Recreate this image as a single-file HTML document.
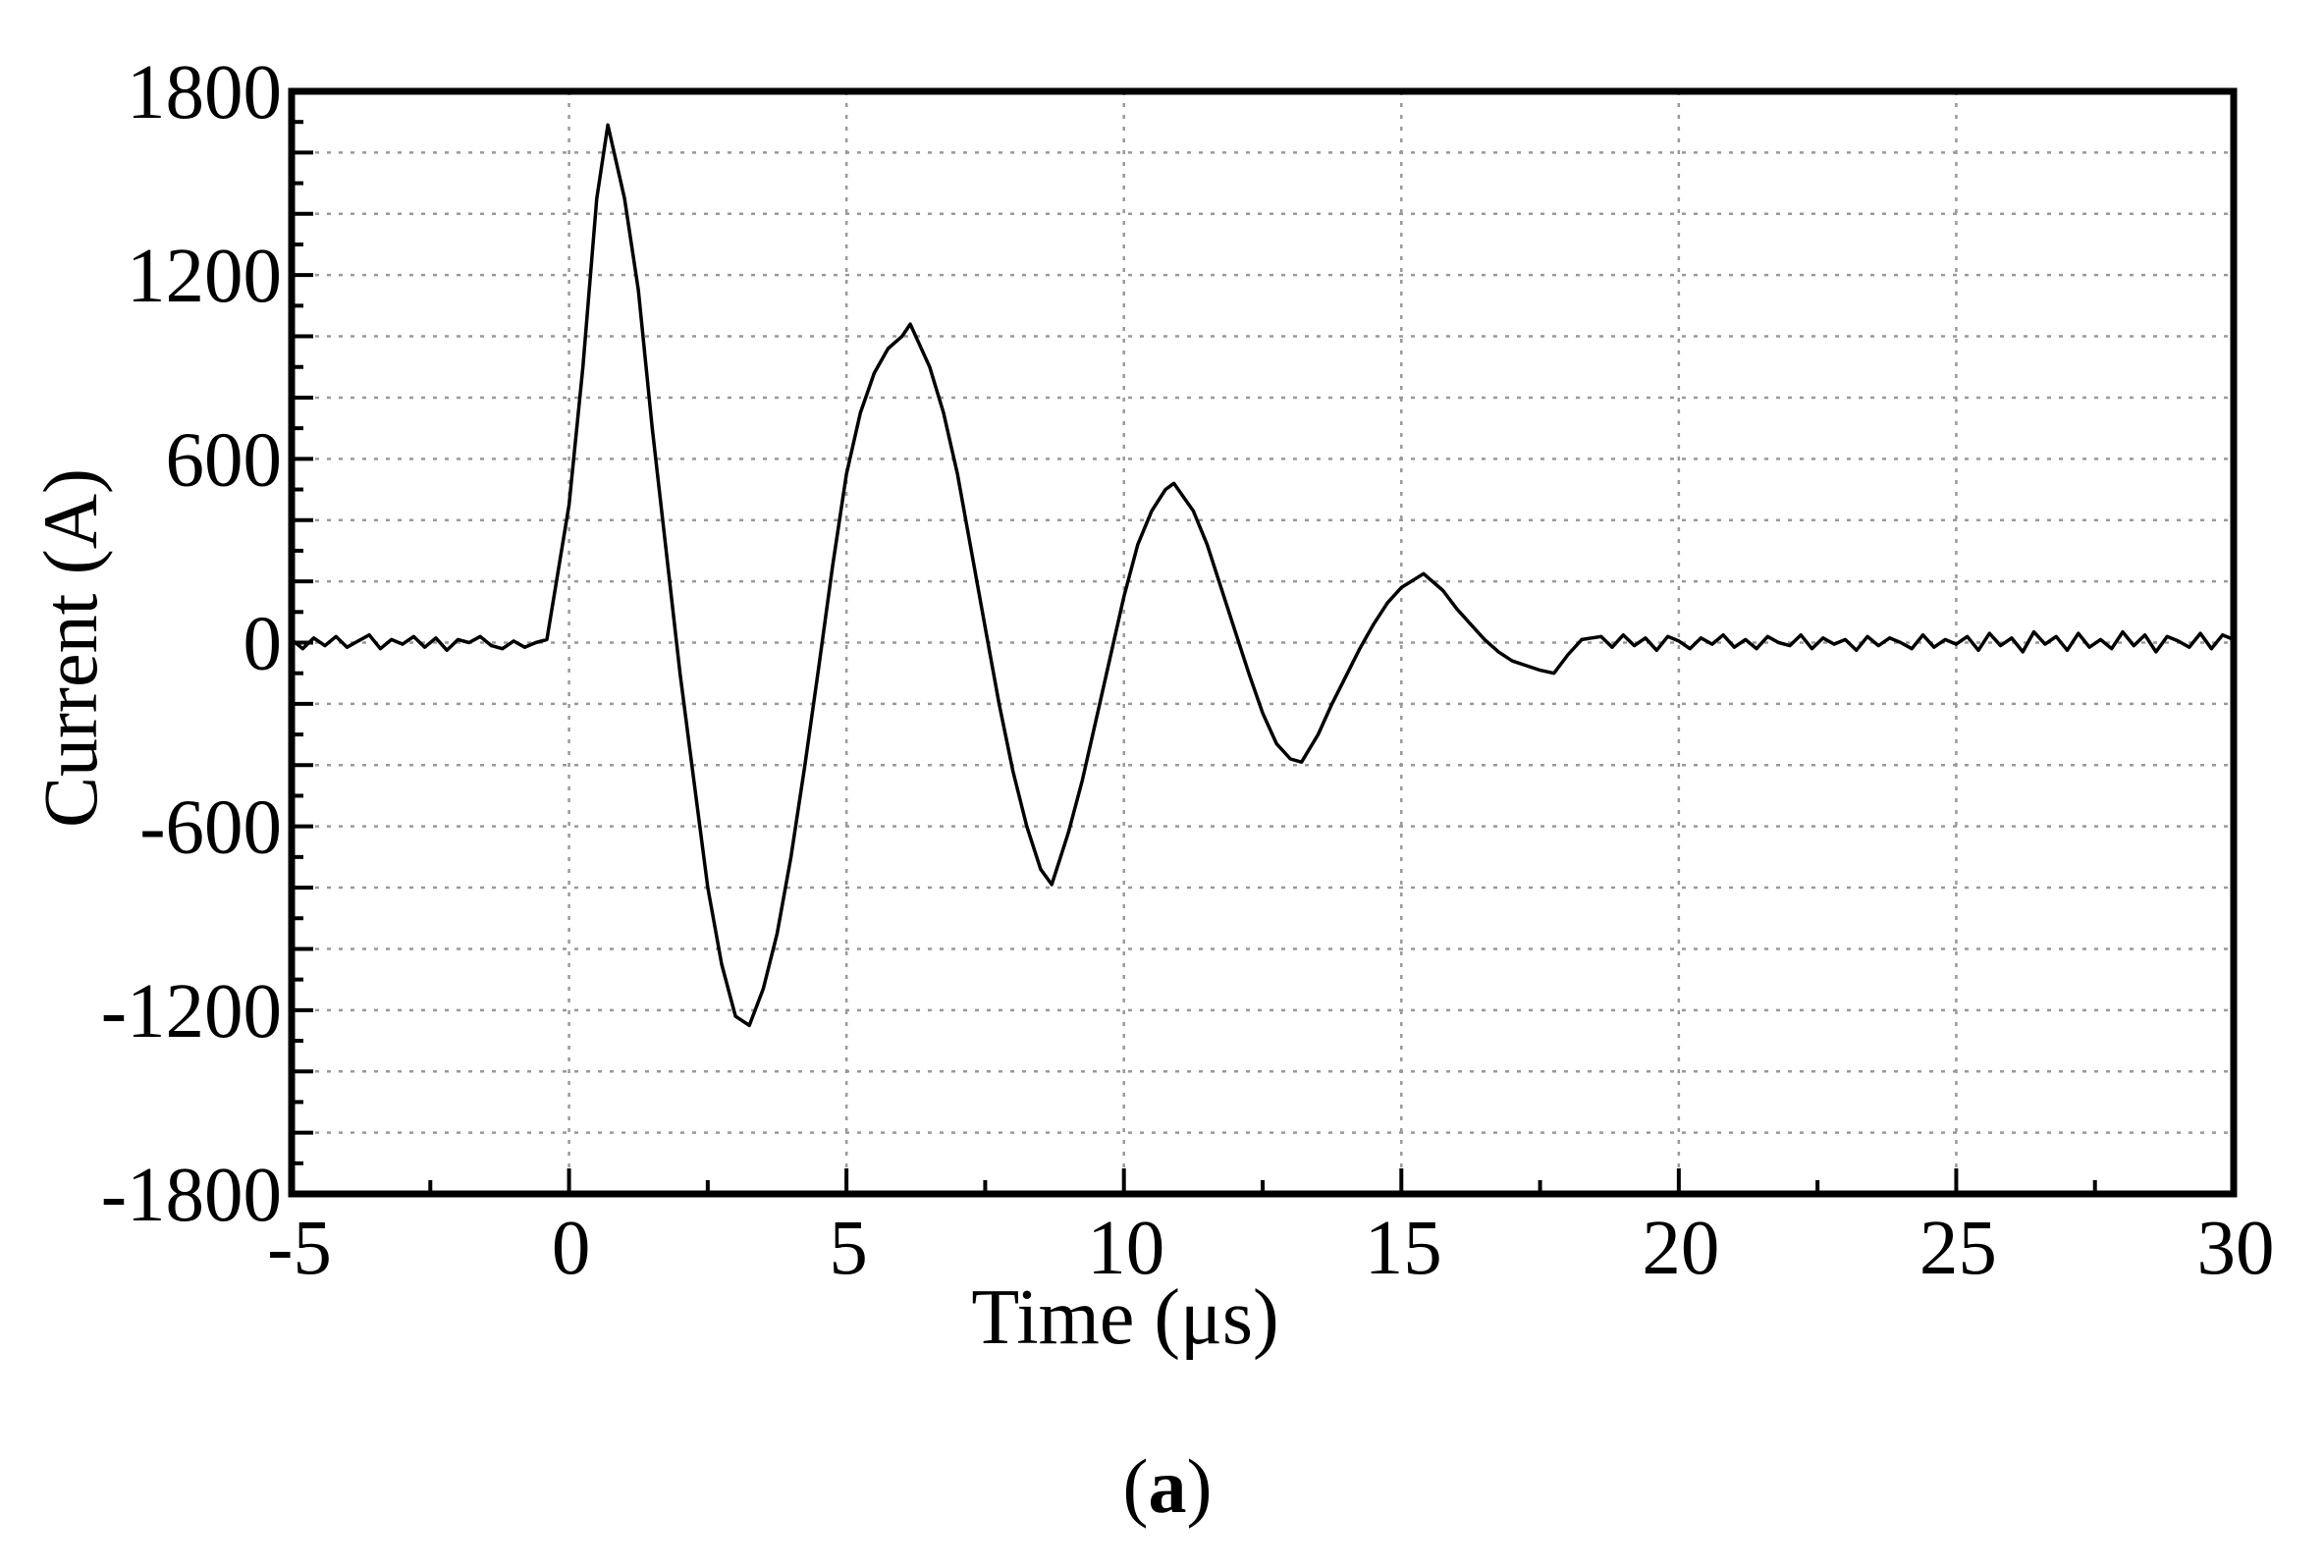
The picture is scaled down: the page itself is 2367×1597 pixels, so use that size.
<!DOCTYPE html>
<html><head><meta charset="utf-8"><style>
html,body{margin:0;padding:0;background:#fff;}
svg{display:block;}
text{font-family:"Liberation Serif",serif;fill:#000;}
</style></head><body>
<svg id="chart" width="2367" height="1597" viewBox="0 0 2367 1597" xmlns="http://www.w3.org/2000/svg">
<g id="grid"></g>
<g id="ticks"></g>
<g id="series"></g>
<rect x="297" y="93" width="1978" height="1123" fill="none" stroke="#000" stroke-width="7"/>
<g id="labels"></g>
<text transform="translate(98,660) rotate(-90)" text-anchor="middle" font-size="78">Current (A)</text>
<text x="1146" y="1368" text-anchor="middle" font-size="80">Time (μs)</text>
<text x="1189" y="1540" text-anchor="middle" font-size="78">(<tspan font-weight="bold">a</tspan>)</text>
</svg>
<script>
const xTicks = [-5, 0, 5, 10, 15, 20, 25, 30];
const yTicks = [-1800, -1200, -600, 0, 600, 1200, 1800];
const times = [-5,-4.8,-4.6,-4.4,-4.2,-4,-3.8,-3.6,-3.4,-3.2,-3,-2.8,-2.6,-2.4,-2.2,-2,-1.8,-1.6,-1.4,-1.2,-1,-0.8,-0.6,-0.4,
0,0.25,0.5,0.7,1,1.25,1.5,1.75,2,2.25,2.5,2.75,3,3.25,3.5,3.75,4,4.25,4.5,4.75,5,5.25,5.5,5.75,6,6.15,6.5,6.75,7,7.25,7.5,7.75,8,8.25,8.5,8.7,9,9.25,9.5,9.75,10,10.25,10.5,10.75,10.9,11.25,11.5,11.75,12,12.25,12.5,12.75,13,13.2,13.5,13.75,14,14.25,14.5,14.75,15,15.4,15.75,16,16.25,16.5,16.75,17,17.25,17.5,17.75,18,18.25,
18.6,18.8,19,19.2,19.4,19.6,19.8,20,20.2,20.4,20.6,20.8,21,21.2,21.4,21.6,21.8,22,22.2,22.4,22.6,22.8,23,23.2,23.4,23.6,23.8,24,24.2,24.4,24.6,24.8,25,25.2,25.4,25.6,25.8,26,26.2,26.4,26.6,26.8,27,27.2,27.4,27.6,27.8,28,28.2,28.4,28.6,28.8,29,29.2,29.4,29.6,29.8,30];
const current = [10,-20,15,-10,20,-15,5,25,-20,10,-5,20,-15,15,-25,10,0,20,-10,-20,5,-15,0,10,
450,900,1450,1690,1450,1150,700,300,-100,-450,-800,-1050,-1220,-1250,-1130,-950,-700,-400,-80,250,550,750,880,960,1000,1040,900,750,550,300,50,-200,-420,-600,-740,-790,-620,-450,-250,-50,150,320,430,500,520,430,320,180,40,-100,-230,-330,-380,-390,-300,-200,-110,-20,60,130,180,225,170,110,60,10,-30,-60,-75,-90,-100,-40,10,
20,-15,25,-10,15,-25,20,5,-20,15,-5,25,-15,10,-20,20,0,-10,25,-20,15,-5,10,-25,20,-10,15,0,-20,25,-15,10,-5,20,-25,30,-10,15,-30,35,-5,20,-25,30,-15,10,-20,35,-10,25,-30,20,5,-15,30,-20,25,10];
const X = t => 297 + (t + 5) * (1978 / 35);
const Y = v => 654.5 - v * (1123 / 3600);
const NS = "http://www.w3.org/2000/svg";
function mk(tag, attrs, parent) { const e = document.createElementNS(NS, tag); for (const k in attrs) e.setAttribute(k, attrs[k]); parent.appendChild(e); return e; }
const grid = document.getElementById('grid'), ticks = document.getElementById('ticks'), labels = document.getElementById('labels'), series = document.getElementById('series');
for (let v = -1600; v <= 1600; v += 200) {
  const l = mk('line', {x1: 297, x2: 2275, y1: Y(v), y2: Y(v), stroke: '#999', 'stroke-width': 2.5, 'stroke-dasharray': '4 8'}, grid);
  
  
}
for (let t = 0; t <= 25; t += 5) {
  const l = mk('line', {x1: X(t), x2: X(t), y1: 93, y2: 1216, stroke: '#999', 'stroke-width': 2.5, 'stroke-dasharray': '4 8'}, grid);
  
  
}
for (let v = -1700; v <= 1700; v += 100) {
  const len = (v % 200 === 0) ? 22 : 12;
  const l = mk('line', {x1: 297, x2: 297 + len, y1: Y(v), y2: Y(v), stroke: '#000', 'stroke-width': 4}, ticks);
  
  
}
for (let t = -2.5; t < 30; t += 2.5) {
  const len = (t % 5 === 0) ? 26 : 14;
  const l = mk('line', {x1: X(t), x2: X(t), y1: 1216, y2: 1216 - len, stroke: '#000', 'stroke-width': 4}, ticks);
  
  
}
yTicks.forEach(v => {
  const tx = mk('text', {x: 287, y: Y(v) + 27, 'text-anchor': 'end', 'font-size': 79}, labels);
  tx.textContent = String(v);
  
  
});
xTicks.forEach(t => {
  const tx = mk('text', {x: X(t) + (t < 0 ? 8 : 2), y: 1297, 'text-anchor': 'middle', 'font-size': 79}, labels);
  tx.textContent = String(t);
  
  
});
const pts = times.map((t, i) => X(t).toFixed(1) + ',' + Y(current[i]).toFixed(1)).join(' ');
const line = mk('polyline', {points: pts, fill: 'none', stroke: '#000', 'stroke-width': 3.5, 'stroke-linejoin': 'round'}, series);


</script>
</body></html>
